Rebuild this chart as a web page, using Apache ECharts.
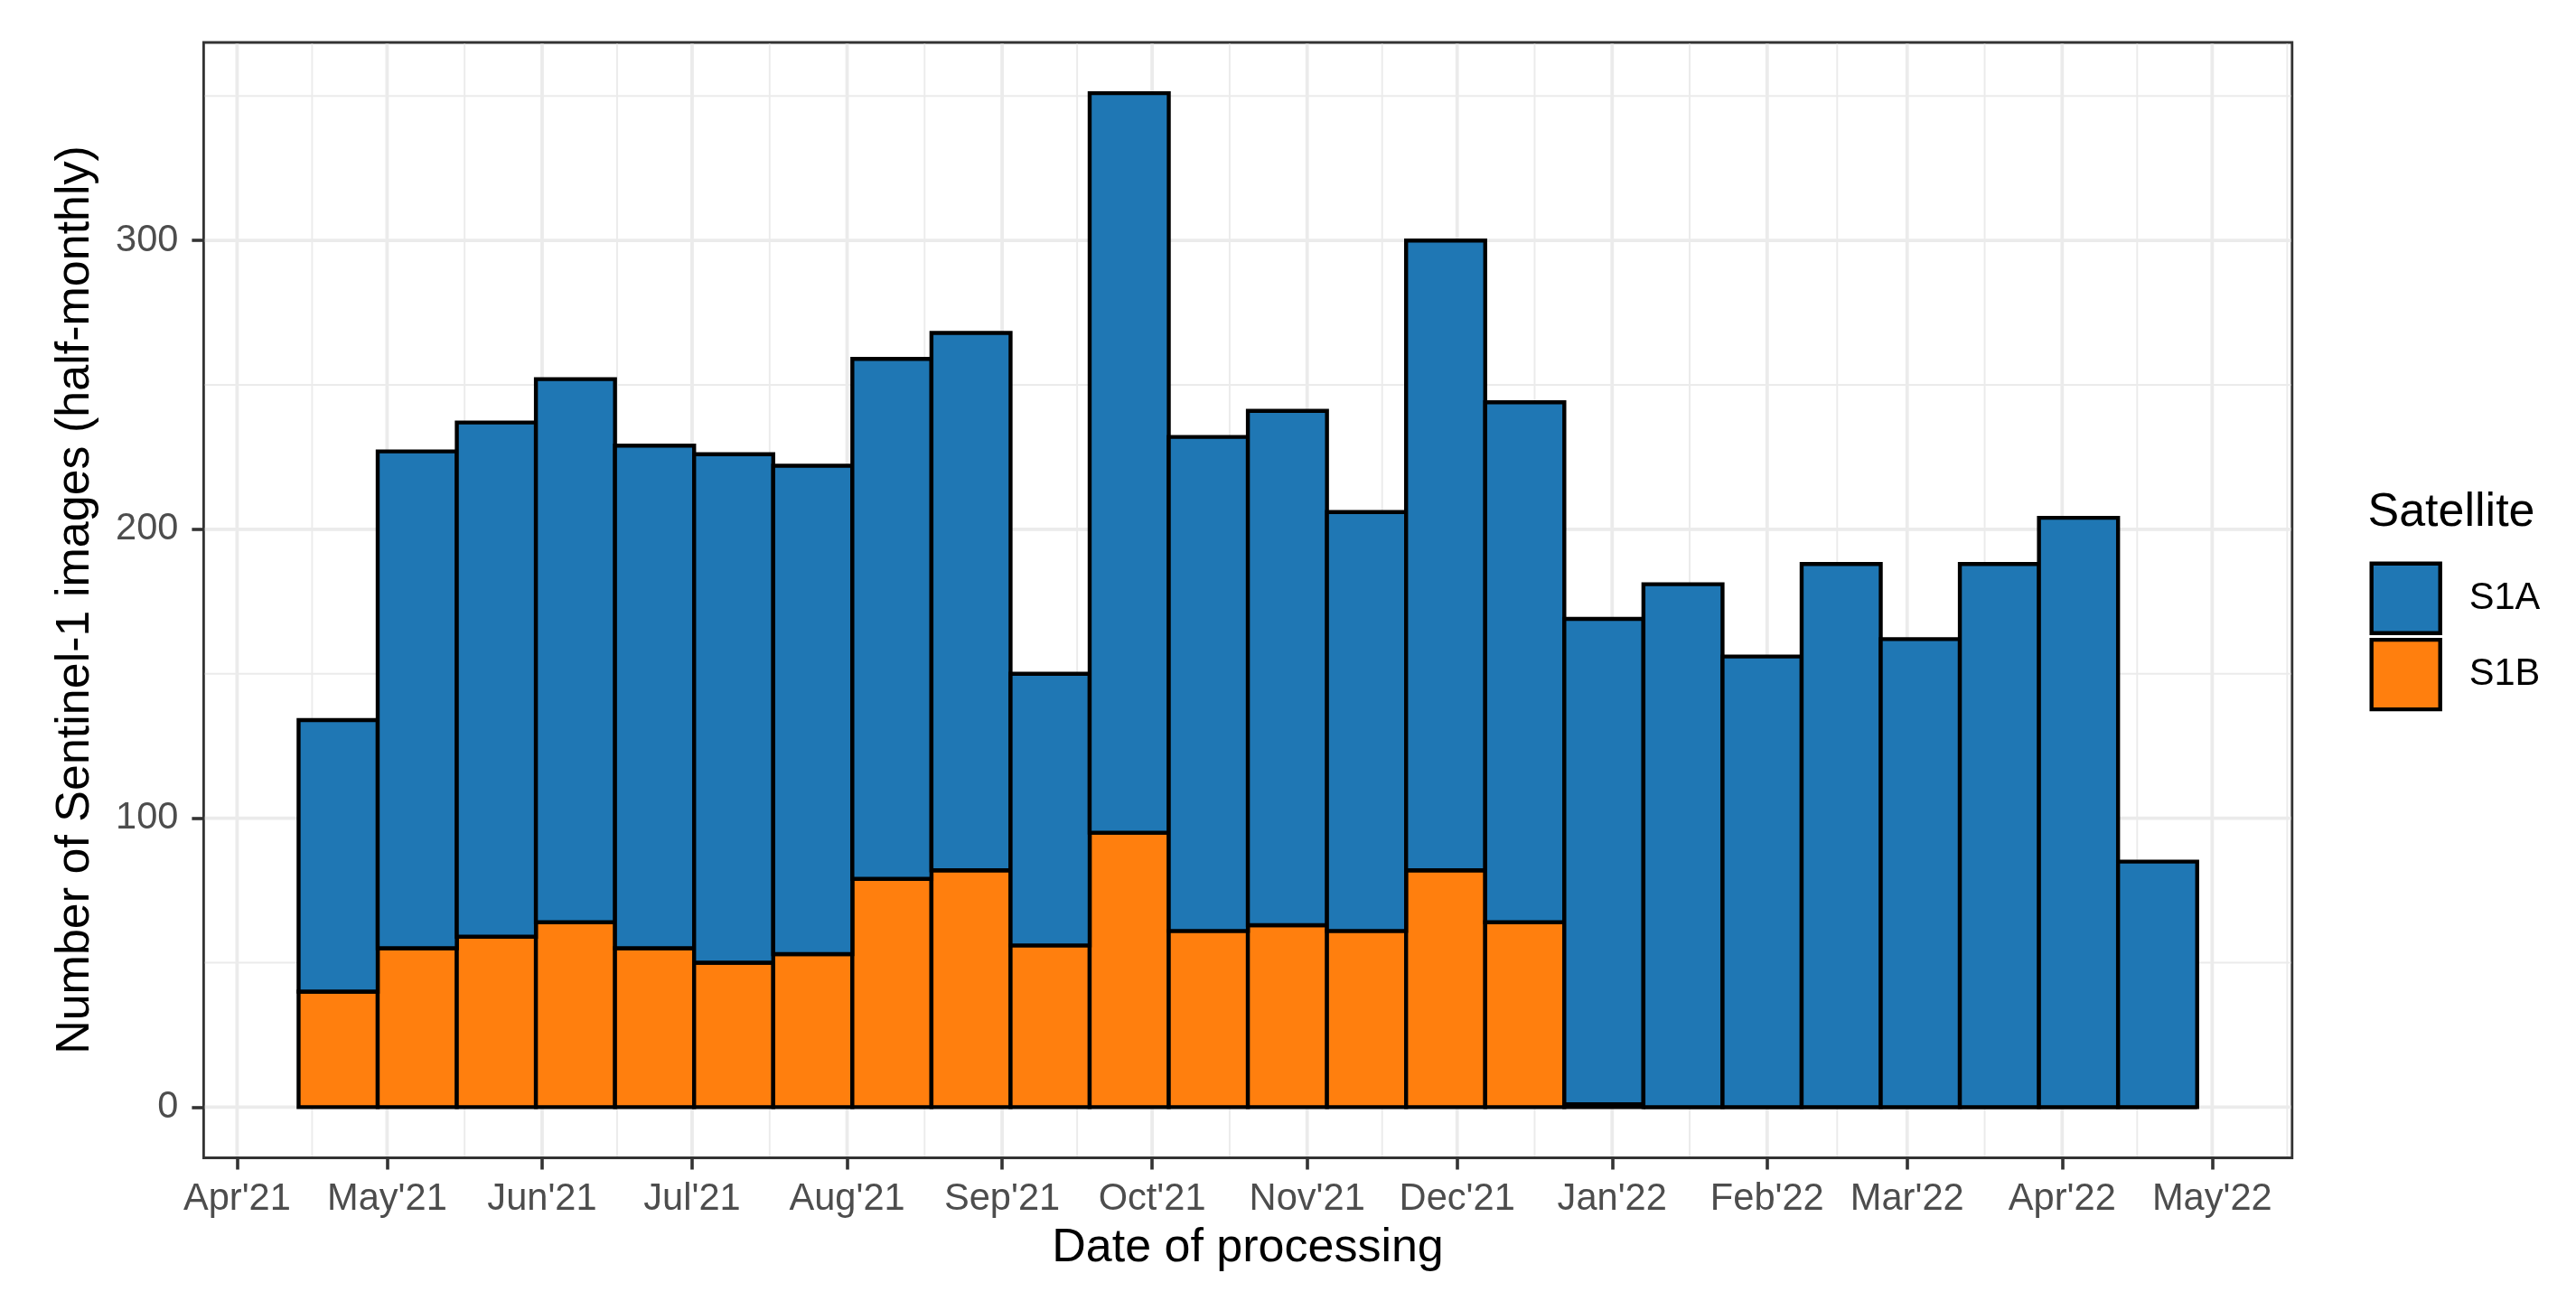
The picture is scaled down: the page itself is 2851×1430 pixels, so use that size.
<!DOCTYPE html>
<html>
<head>
<meta charset="utf-8">
<script src="https://cdn.jsdelivr.net/npm/echarts@6/dist/echarts.min.js"></script>
<style>
  html, body { margin: 0; padding: 0; background: #ffffff; }
  #chart { width: 2851px; height: 1430px; }
</style>
</head>
<body>
<div id="chart"></div>
<script>
// ---------------- DATA ----------------
// half-monthly bin edges (25 edges -> 24 bins)
const binEdges = [
  '2021-04-13 07:12', '2021-04-29 02:54', '2021-05-14 22:36', '2021-05-30 18:17',
  '2021-06-15 14:00', '2021-07-01 09:42', '2021-07-17 05:24', '2021-08-02 01:06',
  '2021-08-17 20:47', '2021-09-02 16:29', '2021-09-18 12:12', '2021-10-04 07:54',
  '2021-10-20 03:36', '2021-11-04 23:17', '2021-11-20 18:59', '2021-12-06 14:41',
  '2021-12-22 10:23', '2022-01-07 06:06', '2022-01-23 01:47', '2022-02-07 21:29',
  '2022-02-23 17:11', '2022-03-11 12:53', '2022-03-27 08:35', '2022-04-12 04:16',
  '2022-04-28 00:00'
];
const s1aCounts = [94, 172, 178, 188, 174, 176, 169, 180, 186, 94, 256, 171,
                   178, 145, 218, 180, 168, 181, 156, 188, 162, 188, 204, 85];
const s1bCounts = [40, 55, 59, 64, 55, 50, 53, 79, 82, 56, 95, 61,
                   63, 61, 82, 64, 1, 0, 0, 0, 0, 0, 0, 0];
const seriesNames = ['S1A', 'S1B'];
const xTickDates = ['2021-04-01', '2021-05-01', '2021-06-01', '2021-07-01', '2021-08-01',
  '2021-09-01', '2021-10-01', '2021-11-01', '2021-12-01', '2022-01-01', '2022-02-01',
  '2022-03-01', '2022-04-01', '2022-05-01'];
const xTickLabels = ["Apr'21", "May'21", "Jun'21", "Jul'21", "Aug'21", "Sep'21", "Oct'21",
  "Nov'21", "Dec'21", "Jan'22", "Feb'22", "Mar'22", "Apr'22", "May'22"];
const xMinorDates = ['2021-04-16 00:00', '2021-05-16 12:00', '2021-06-16 00:00',
  '2021-07-16 12:00', '2021-08-16 12:00', '2021-09-16 00:00', '2021-10-16 12:00',
  '2021-11-16 00:00', '2021-12-16 12:00', '2022-01-16 12:00', '2022-02-15 00:00',
  '2022-03-16 12:00', '2022-04-16 00:00', '2022-05-16 00:00'];
const yTicks = [0, 100, 200, 300];
const yMinor = [50, 150, 250, 350];

// ---------------- HELPERS ----------------
function toTs(s) {
  const parts = s.split(' ');
  const d = parts[0].split('-').map(Number);
  const t = (parts[1] || '00:00').split(':').map(Number);
  return new Date(d[0], d[1] - 1, d[2], t[0], t[1]).getTime();
}
const edgeTs = binEdges.map(toTs);
const tickTs = xTickDates.map(toTs);
const minorTs = xMinorDates.map(toTs);

const totals = s1aCounts.map((v, i) => v + s1bCounts[i]);
const yDataMax = Math.max.apply(null, totals);
const yPad = 0.05 * yDataMax;
const xRange = edgeTs[edgeTs.length - 1] - edgeTs[0];
const xMin = edgeTs[0] - 0.05 * xRange;
const xMax = edgeTs[edgeTs.length - 1] + 0.05 * xRange;

const s1bData = s1bCounts.map((v, i) => [edgeTs[i], edgeTs[i + 1], 0, v]);
const s1aData = s1aCounts.map((v, i) => [edgeTs[i], edgeTs[i + 1], s1bCounts[i], s1bCounts[i] + v]);

const vGridData = tickTs.map(t => [t, 1]).concat(minorTs.map(t => [t, 0]));
const hGridData = yTicks.map(v => [xMin, v, 1]).concat(yMinor.map(v => [xMin, v, 0]));

const FONT = '"Liberation Sans", Arial, Helvetica, sans-serif';
const COLORS = { S1A: '#1F77B4', S1B: '#FF7F0E' };
const BAR_LINE = 4.4;

function barRender(color) {
  return function (params, api) {
    const p0 = api.coord([api.value(0), api.value(3)]);
    const p1 = api.coord([api.value(1), api.value(2)]);
    return {
      type: 'rect',
      shape: { x: p0[0], y: p0[1], width: p1[0] - p0[0], height: p1[1] - p0[1] },
      style: { fill: color, stroke: '#000000', lineWidth: BAR_LINE }
    };
  };
}

const chart = echarts.init(document.getElementById('chart'), null, { renderer: 'canvas' });

const option = {
  backgroundColor: '#ffffff',
  animation: false,
  grid: {
    left: 225.4, right: 2851 - 2536.8, top: 47, bottom: 1430 - 1281.5,
    show: true, borderColor: '#333333', borderWidth: 2.8, backgroundColor: 'transparent',
    containLabel: false
  },
  xAxis: {
    type: 'value',
    min: xMin, max: xMax,
    axisLine: { show: false, onZero: false },
    splitLine: { show: false },
    axisTick: {
      show: true, customValues: tickTs, length: 13, inside: false,
      lineStyle: { color: '#333333', width: 3.6 }
    },
    axisLabel: {
      customValues: tickTs, margin: 25, fontSize: 41.6, color: '#4D4D4D', fontFamily: FONT,
      hideOverlap: false, showMinLabel: true, showMaxLabel: true,
      formatter: function (val) {
        let best = 0, bd = Infinity;
        tickTs.forEach((t, i) => { const d = Math.abs(t - val); if (d < bd) { bd = d; best = i; } });
        return xTickLabels[best];
      }
    }
  },
  yAxis: {
    type: 'value',
    min: -yPad, max: yDataMax + yPad,
    axisLine: { show: false, onZero: false },
    splitLine: { show: false },
    axisTick: {
      show: true, customValues: yTicks, length: 13, inside: false,
      lineStyle: { color: '#333333', width: 3.6 }
    },
    axisLabel: {
      customValues: yTicks, margin: 28, fontSize: 41.6, color: '#4D4D4D', fontFamily: FONT,
      formatter: function (v) { return String(Math.round(v)); }
    }
  },
  legend: {
    data: seriesNames,
    orient: 'vertical',
    left: 2622.5, top: 621.5, padding: 0,
    itemWidth: 76, itemHeight: 77, itemGap: 3,
    icon: 'rect',
    selectedMode: false,
    itemStyle: { borderColor: '#000000', borderWidth: 4.4 },
    textStyle: { fontSize: 41.6, color: '#000000', fontFamily: FONT, padding: [0, 0, 0, 27] }
  },
  graphic: [
    {
      type: 'text', x: 1381, y: 1382,
      style: { text: 'Date of processing', fontSize: 52, fontFamily: FONT, fill: '#000000',
               align: 'center', verticalAlign: 'middle' }
    },
    {
      type: 'text', x: 84, y: 664, rotation: Math.PI / 2,
      style: { text: 'Number of Sentinel-1 images (half-monthly)', fontSize: 52, fontFamily: FONT,
               fill: '#000000', align: 'center', verticalAlign: 'middle' }
    },
    {
      type: 'text', x: 2620.5, y: 568,
      style: { text: 'Satellite', fontSize: 52, fontFamily: FONT, fill: '#000000',
               align: 'left', verticalAlign: 'middle' }
    }
  ],
  series: [
    {
      name: 'vgrid', type: 'custom', silent: true, z: 1,
      encode: { x: 0, y: 1 },
      data: vGridData,
      renderItem: function (params, api) {
        const cs = params.coordSys;
        const x = api.coord([api.value(0), 0])[0];
        const major = api.value(1) === 1;
        return {
          type: 'line',
          shape: { x1: x, y1: cs.y + 1.4, x2: x, y2: cs.y + cs.height - 1.4 },
          style: { stroke: '#EBEBEB', lineWidth: major ? 3.8 : 1.9 }
        };
      }
    },
    {
      name: 'hgrid', type: 'custom', silent: true, z: 1,
      encode: { x: 0, y: 1 },
      data: hGridData,
      renderItem: function (params, api) {
        const cs = params.coordSys;
        const y = api.coord([api.value(0), api.value(1)])[1];
        const major = api.value(2) === 1;
        return {
          type: 'line',
          shape: { x1: cs.x + 1.4, y1: y, x2: cs.x + cs.width - 1.4, y2: y },
          style: { stroke: '#EBEBEB', lineWidth: major ? 3.8 : 1.9 }
        };
      }
    },
    {
      name: 'S1B', type: 'custom', z: 3,
      itemStyle: { color: COLORS.S1B, borderColor: '#000000', borderWidth: BAR_LINE },
      encode: { x: [0, 1], y: [2, 3] },
      data: s1bData,
      renderItem: barRender(COLORS.S1B)
    },
    {
      name: 'S1A', type: 'custom', z: 3,
      itemStyle: { color: COLORS.S1A, borderColor: '#000000', borderWidth: BAR_LINE },
      encode: { x: [0, 1], y: [2, 3] },
      data: s1aData,
      renderItem: barRender(COLORS.S1A)
    }
  ]
};
chart.setOption(option);
</script>
</body>
</html>
